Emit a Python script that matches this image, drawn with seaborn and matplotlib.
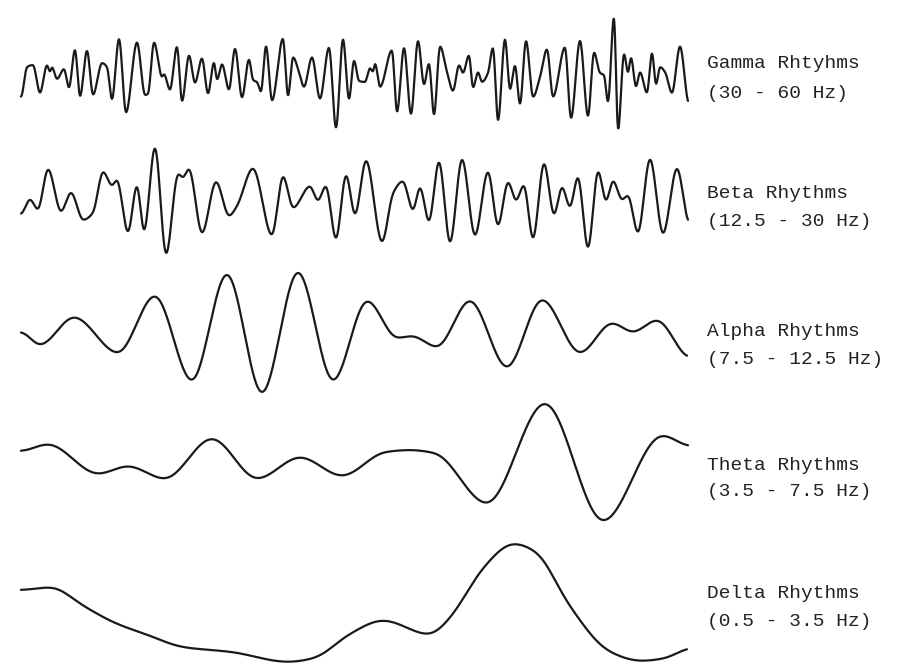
import numpy as np
import matplotlib
matplotlib.use("Agg")
import matplotlib.pyplot as plt
import seaborn as sns

# EEG band samples: (time, amplitude) at each turning point of the trace
gamma = [(1, -17), (7, 13), (13, 15), (20, -13), (27, 15), (30, 8), (32, 13), (37, 1),
         (44, 11), (49, -8), (55, 31), (60, -17), (67, 30), (73, -15), (82, 17), (87, 13),
         (92, -20), (99, 42), (106, -33), (117, 38), (125, -15), (128, -14), (134, 38),
         (142, 3), (144, 6), (150, -10), (157, 34), (162, -22), (169, 25), (175, -3),
         (182, 22), (188, -14), (194, 18), (197, 0), (202, 16), (209, -10), (215, 32),
         (222, -18), (229, 21), (233, 0), (237, -2), (241, -12), (246, 35), (252, -21),
         (263, 42), (268, -17), (273, 23), (279, 8), (284, -7), (292, 23), (300, -19),
         (309, 33), (316, -49), (323, 42), (329, -20), (334, 20), (339, -1), (345, -2),
         (350, 12), (353, 8), (355, 17), (360, -7), (372, 30), (377, -33), (384, 33),
         (391, -35), (398, 40), (404, -5), (409, 17), (414, -36), (420, 34), (427, 8),
         (433, -11), (439, 15), (443, 7), (449, 25), (453, -8), (458, 8), (462, -2),
         (468, 7), (473, 33), (478, -42), (485, 42), (490, -10), (495, 15), (500, -25),
         (506, 40), (513, -17), (520, 3), (527, 31), (533, -17), (545, 33), (551, -39),
         (560, 40), (568, -37), (574, 28), (580, 7), (584, 5), (588, -23), (594, 65),
         (598, -52), (604, 27), (608, 7), (611, 23), (616, -7), (620, 8), (627, -13),
         (632, 28), (636, -5), (640, 13), (645, 8), (652, -13), (660, 34), (668, -22)]

beta = [(1, -9), (10, 6), (18, -5), (28, 37), (41, -7), (51, 13), (63, -15), (73, -8),
        (83, 34), (92, 19), (97, 26), (108, -29), (117, 22), (124, -29), (135, 61),
        (146, -52), (158, 32), (163, 27), (169, 37), (182, -29), (196, 24), (209, -11),
        (217, -1), (233, 37), (252, -31), (263, 30), (273, -3), (290, 19), (298, 4),
        (306, 20), (316, -36), (326, 32), (335, -11), (346, 46), (362, -38), (373, 12),
        (383, 24), (393, -6), (400, 19), (409, -18), (419, 46), (430, -40), (442, 48),
        (455, -32), (468, 35), (478, -22), (488, 24), (496, 4), (504, 21), (513, -36),
        (524, 44), (534, -11), (542, 19), (550, -3), (558, 30), (568, -46), (578, 36),
        (586, 3), (593, 25), (602, 5), (608, 10), (618, -29), (630, 48), (643, -30),
        (657, 38), (668, -17)]

alpha = [(1, 3), (20, -10), (54, 18), (98, -18), (135, 40), (172, -47), (207, 63),
         (242, -60), (278, 65), (313, -47), (347, 35), (377, -3), (392, -1), (417, -12),
         (450, 35), (487, -33), (522, 36), (560, -18), (592, 12), (613, 3), (637, 15),
         (667, -22)]

theta = [(1, 9), (28, 16), (78, -14), (108, -6), (145, -19), (192, 22), (237, -19),
         (280, 3), (322, -16), (365, 8), (390, 10), (415, 7), (467, -44), (525, 58),
         (583, -62), (642, 25), (668, 14)]

delta = [(1, 20), (32, 23), (62, 5), (95, -13), (128, -25), (162, -37), (212, -42),
         (268, -52), (295, -48), (328, -25), (363, -10), (410, -25), (430, -8),
         (463, 42), (493, 67), (517, 58), (547, 8), (590, -42), (620, -51), (647, -48),
         (667, -38)]

band_names = ["Gamma Rhtyhms", "Beta Rhythms", "Alpha Rhythms", "Theta Rhythms", "Delta Rhythms"]
band_ranges = ["(30 - 60 Hz)", "(12.5 - 30 Hz)", "(7.5 - 12.5 Hz)", "(3.5 - 7.5 Hz)", "(0.5 - 3.5 Hz)"]
bands = [gamma, beta, alpha, theta, delta]


def pchip(x, y, xs):
    """Shape-preserving cubic through the turning points."""
    x = np.asarray(x, float)
    y = np.asarray(y, float)
    h = np.diff(x)
    d = np.diff(y) / h
    m = np.zeros_like(y)
    for k in range(1, len(x) - 1):
        if d[k - 1] * d[k] > 0:
            w1 = 2 * h[k] + h[k - 1]
            w2 = h[k] + 2 * h[k - 1]
            m[k] = (w1 + w2) / (w1 / d[k - 1] + w2 / d[k])
    m[0] = 0.0
    m[-1] = d[-1] * 0.5
    idx = np.clip(np.searchsorted(x, xs) - 1, 0, len(x) - 2)
    hk = h[idx]
    s = (xs - x[idx]) / hk
    h00 = 2 * s**3 - 3 * s**2 + 1
    h10 = s**3 - 2 * s**2 + s
    h01 = -2 * s**3 + 3 * s**2
    h11 = s**3 - s**2
    return h00 * y[idx] + h10 * hk * m[idx] + h01 * y[idx + 1] + h11 * hk * m[idx + 1]


def soften(values, sigma_samples):
    """Gaussian pass that rounds the joins of the piecewise curve."""
    if sigma_samples <= 0:
        return values
    r = int(3 * sigma_samples)
    k = np.exp(-0.5 * (np.arange(-r, r + 1) / sigma_samples) ** 2)
    k /= k.sum()
    padded = np.pad(values, r, mode="edge")
    return np.convolve(padded, k, mode="valid")


sns.set_theme(style="white")
plt.rcParams["font.family"] = ["Liberation Mono", "DejaVu Sans Mono"]

fig = plt.figure(figsize=(8.98, 6.64), dpi=100)
ax = fig.add_axes([0, 0, 1, 1])

row_base = [80, 205, 335, 460, 610]
label_y = [(63, 93), (193, 222), (331, 359), (466, 492), (594, 622)]
smoothing = [0.6, 1.5, 3.5, 5.0, 7.0]

for pts, base, sm, name, rng, (y1, y2) in zip(bands, row_base, smoothing,
                                               band_names, band_ranges, label_y):
    t, amp = zip(*pts)
    tt = np.linspace(t[0], t[-1], 3000)
    step = tt[1] - tt[0]
    trace = base - soften(pchip(t, amp, tt), sm / step)
    sns.lineplot(x=tt, y=trace, ax=ax, color="#1a1a1a", linewidth=1.6,
                 sort=False, estimator=None)
    ax.text(687, y1, name, fontsize=14, color="#222222", va="center", ha="left")
    ax.text(687, y2, rng, fontsize=14, color="#222222", va="center", ha="left")

ax.set_xlim(-20, 878)
ax.set_ylim(664, 0)
ax.axis("off")

fig.savefig("out.png", dpi=100, facecolor="white")
